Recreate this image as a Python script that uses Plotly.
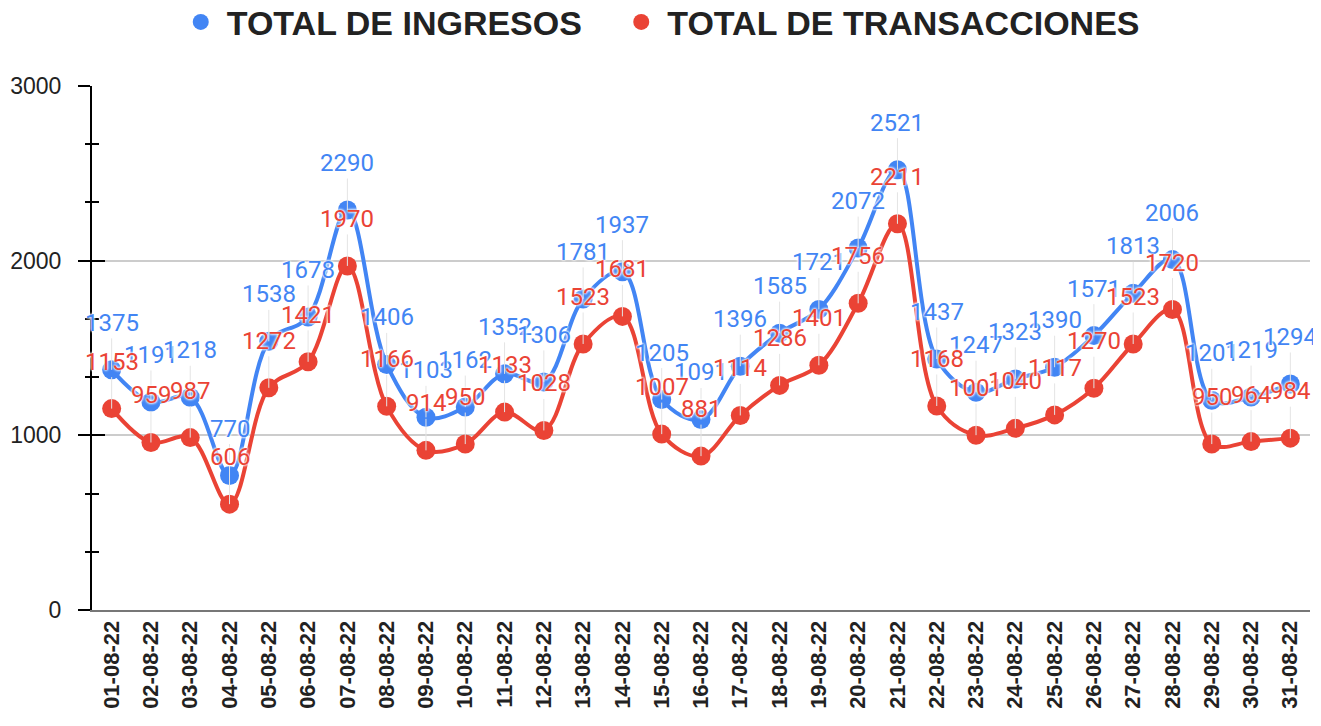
import plotly.graph_objects as go

fechas = ["01-08-22", "02-08-22", "03-08-22", "04-08-22", "05-08-22", "06-08-22", "07-08-22",
          "08-08-22", "09-08-22", "10-08-22", "11-08-22", "12-08-22", "13-08-22", "14-08-22",
          "15-08-22", "16-08-22", "17-08-22", "18-08-22", "19-08-22", "20-08-22", "21-08-22",
          "22-08-22", "23-08-22", "24-08-22", "25-08-22", "26-08-22", "27-08-22", "28-08-22",
          "29-08-22", "30-08-22", "31-08-22"]

ingresos = [1375, 1191, 1218, 770, 1538, 1678, 2290, 1406, 1103, 1162, 1352, 1306, 1781, 1937,
            1205, 1091, 1396, 1585, 1721, 2072, 2521, 1437, 1247, 1323, 1390, 1571, 1813, 2006,
            1201, 1219, 1294]

transacciones = [1153, 959, 987, 606, 1272, 1421, 1970, 1166, 914, 950, 1133, 1028, 1523, 1681,
                 1007, 881, 1114, 1286, 1401, 1756, 2211, 1168, 1001, 1040, 1117, 1270, 1523, 1720,
                 950, 964, 984]

series = [("TOTAL DE INGRESOS", ingresos, "#4285F4"),
          ("TOTAL DE TRANSACCIONES", transacciones, "#EA4335")]

fig = go.Figure()

for name, vals, color in series:
    fig.add_trace(go.Scatter(
        x=fechas, y=vals, mode="lines+markers", name=name, showlegend=False,
        line=dict(color=color, width=4, shape="spline", smoothing=1.0),
        marker=dict(color=color, size=19),
    ))

# legend-only dummy traces (circle symbols); non-breaking spaces pad the gap between entries
for i, (name, vals, color) in enumerate(series):
    pad = "\u00a0\u00a0\u00a0" if i == 0 else ""
    fig.add_trace(go.Scatter(
        x=[fechas[0]], y=[None], mode="markers", name=name + pad, yaxis="y2",
        marker=dict(color=color, size=22),
    ))

annotations = []
for name, vals, color in series:
    for f, v in zip(fechas, vals):
        annotations.append(dict(
            x=f, y=v, xref="x", yref="y", text=str(v),
            showarrow=True, arrowhead=0, arrowwidth=1, arrowcolor="#e4e4e4",
            ax=0, ay=-47,
            font=dict(family="Roboto", size=24, color=color,
                      shadow="0 0 3px white, 0 0 3px white, 0 0 2px white"),
        ))

fig.update_layout(
    width=1313, height=718,
    paper_bgcolor="white", plot_bgcolor="white",
    margin=dict(l=84, r=11, t=78, b=116, autoexpand=False),
    annotations=annotations,
    showlegend=True,
    legend=dict(
        orientation="h", x=0.127, xanchor="left", xref="container",
        y=0.98, yanchor="middle", yref="container",
        font=dict(family="Liberation Sans", size=34, color="#222222", weight="bold"),
        itemsizing="trace", itemwidth=42, bgcolor="rgba(0,0,0,0)",
    ),
    xaxis=dict(
        type="category", tickangle=-90, showgrid=False, automargin=False,
        showline=True, linecolor="#777777", linewidth=2,
        ticks="", tickfont=dict(family="Liberation Sans", size=22, color="#222222", weight="bold"),
        range=[-0.5, len(fechas) - 0.5],
    ),
    yaxis=dict(
        range=[0, 3000], tickvals=[0, 1000, 2000, 3000], automargin=False,
        showgrid=True, gridcolor="#cccccc", gridwidth=1.5,
        showline=True, linecolor="black", linewidth=2,
        ticks="outside", ticklen=12, tickwidth=2, tickcolor="black",
        ticklabelstandoff=12,
        tickfont=dict(family="Liberation Sans", size=23, color="#222222"),
        minor=dict(tickvals=[333.33, 666.67, 1333.33, 1666.67, 2333.33, 2666.67],
                   ticks="outside", ticklen=5, tickwidth=2, tickcolor="black", showgrid=False),
        zeroline=False,
    ),
    yaxis2=dict(
        range=[0, 3000], overlaying="y", side="left", showgrid=False, automargin=False,
        showticklabels=False, tickvals=[0, 1000, 2000, 3000],
        ticks="inside", ticklen=13, tickwidth=2, tickcolor="black",
        minor=dict(tickvals=[333.33, 666.67, 1333.33, 1666.67, 2333.33, 2666.67],
                   ticks="inside", ticklen=7, tickwidth=2, tickcolor="black", showgrid=False),
        zeroline=False, showline=False,
    ),
)

fig.write_html("out.html")
